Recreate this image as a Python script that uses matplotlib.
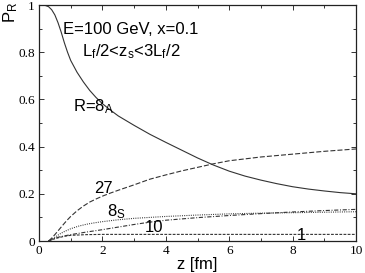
import matplotlib
matplotlib.use("Agg")
import matplotlib.pyplot as plt
from matplotlib.ticker import MultipleLocator

plt.rcParams['mathtext.fontset'] = 'custom'
plt.rcParams['mathtext.rm'] = 'Liberation Sans'
plt.rcParams['mathtext.default'] = 'regular'
plt.rcParams['lines.scale_dashes'] = False

# ---- data ----
z_8A = [0, 0.1, 0.2, 0.3, 0.4, 0.5, 0.6, 0.7, 0.8, 0.9, 1.0, 1.2, 1.4, 1.6, 1.8,
        2.0, 2.25, 2.5, 2.75, 3.0, 3.5, 4.0, 4.5, 5.0, 5.5, 6.0, 6.5, 7.0, 7.5,
        8.0, 8.5, 9.0, 9.5, 10.0]
p_8A = [1.0, 1.0, 0.998, 0.993, 0.98, 0.958, 0.925, 0.885, 0.84, 0.80, 0.765,
        0.715, 0.674, 0.638, 0.608, 0.582, 0.555, 0.53, 0.51, 0.49, 0.452, 0.418,
        0.385, 0.352, 0.322, 0.296, 0.275, 0.258, 0.243, 0.23, 0.22, 0.212,
        0.205, 0.20]

z_27 = [0.3, 0.4, 0.5, 0.6, 0.7, 0.8, 0.9, 1.0, 1.2, 1.4, 1.6, 1.8, 2.0, 2.25,
        2.5, 3.0, 3.5, 4.0, 4.5, 5.0, 5.5, 6.0, 7.0, 8.0, 9.0, 10.0]
p_27 = [0.0, 0.012, 0.027, 0.043, 0.059, 0.075, 0.09, 0.104, 0.128, 0.148,
        0.165, 0.178, 0.19, 0.203, 0.215, 0.238, 0.262, 0.28, 0.297, 0.312,
        0.327, 0.34, 0.356, 0.368, 0.38, 0.39]

z_8S = [0.3, 0.4, 0.5, 0.6, 0.7, 0.8, 1.0, 1.25, 1.5, 1.75, 2.0, 2.5, 3.0, 4.0,
        5.0, 6.0, 7.0, 8.0, 9.0, 10.0]
p_8S = [0.0, 0.008, 0.016, 0.025, 0.033, 0.04, 0.052, 0.063, 0.071, 0.077,
        0.082, 0.09, 0.096, 0.104, 0.110, 0.115, 0.118, 0.120, 0.122, 0.124]

z_10 = [0.3, 0.6, 1.0, 1.5, 2.0, 2.5, 3.0, 3.5, 4.0, 5.0, 6.0, 7.0, 8.0, 9.0, 10.0]
p_10 = [0.0, 0.016, 0.027, 0.038, 0.048, 0.059, 0.07, 0.08, 0.088, 0.099, 0.108,
        0.116, 0.123, 0.129, 0.134]

z_1 = [0.3, 0.5, 0.8, 1.0, 1.5, 2.0, 4.0, 6.0, 8.0, 10.0]
p_1 = [0.0, 0.01, 0.02, 0.024, 0.027, 0.028, 0.028, 0.028, 0.028, 0.028]

xticks = [0, 2, 4, 6, 8, 10]
yticks = [0, 0.2, 0.4, 0.6, 0.8, 1]
yticklabels = ['0', '0.2', '0.4', '0.6', '0.8', '1']

# ---- figure ----
fig = plt.figure(figsize=(3.65, 2.73), dpi=100)
ax = fig.add_axes([39/365, 1-241/273, (356-39)/365, (241-5)/273])

lc = '#333333'
lw = 0.8
ax.plot(z_8A, p_8A, color=lc, lw=lw, linestyle='-')
ax.plot(z_27, p_27, color=lc, lw=lw, linestyle=(0, (3.6, 1.5)))
ax.plot(z_8S, p_8S, color=lc, lw=lw, linestyle=(0, (0.7, 0.9)))
ax.plot(z_10, p_10, color=lc, lw=lw, linestyle=(0, (3.0, 1.2, 0.7, 1.2)))
ax.plot(z_1, p_1, color=lc, lw=lw, linestyle=(0, (2.0, 1.0)))

ax.set_xlim(0, 10)
ax.set_ylim(0, 1)
ax.set_xticks(xticks)
ax.set_yticks(yticks)
ax.set_yticklabels(yticklabels)
ax.xaxis.set_minor_locator(MultipleLocator(1))
ax.yaxis.set_minor_locator(MultipleLocator(0.1))
ax.tick_params(which='both', direction='in', top=True, right=True,
               width=0.7, color='#333333')
ax.tick_params(which='major', length=3.6, pad=3)
ax.tick_params(which='minor', length=2.0)
for lab in ax.get_xticklabels() + ax.get_yticklabels():
    lab.set_fontfamily('Liberation Serif')
    lab.set_fontsize(9.5)
for sp in ax.spines.values():
    sp.set_linewidth(0.9)
    sp.set_color('#222222')

tf = dict(family='Liberation Sans', fontsize=12, color='black')
ax.text(0.76, 0.877, 'E=100 GeV, x=0.1', va='baseline', ha='left', **tf)
ax.text(1.35, 0.782, 'L$_f$/2<z$_s$<3L$_f$/2', va='baseline', ha='left', **tf)
ax.text(1.08, 0.548, 'R=8$_A$', va='baseline', ha='left', **tf)
ax.text(1.73, 0.205, '27', va='baseline', ha='left', **tf)
ax.text(2.16, 0.103, '8$_S$', va='baseline', ha='left', **tf)
ax.text(3.34, 0.040, '10', va='baseline', ha='left', **tf)
ax.text(8.13, 0.005, '1', va='baseline', ha='left', **tf)

fig.text(11/365, 1-12/273, 'P$_R$', rotation=90, ha='center', va='center', **tf)
fig.text(197/365, 1-265/273, 'z [fm]', ha='center', va='center', **tf)

fig.savefig('out.png', dpi=100)
